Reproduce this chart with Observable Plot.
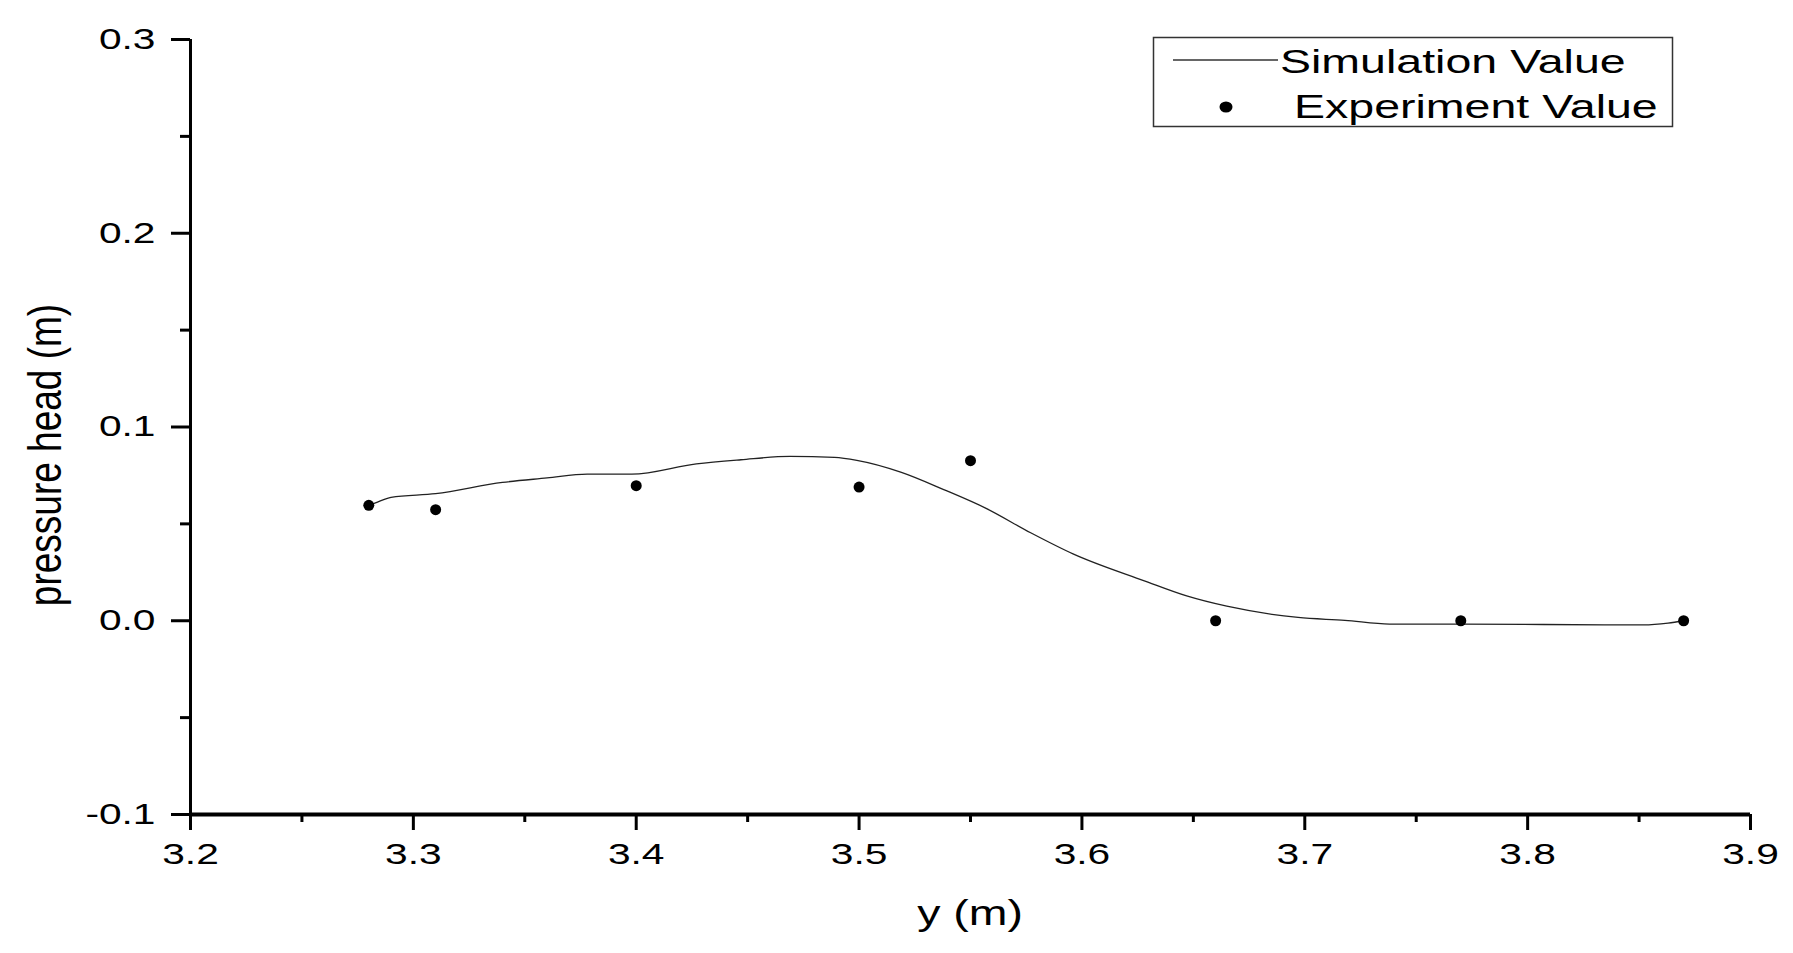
<!DOCTYPE html>
<html><head><meta charset="utf-8">
<script src="https://cdn.jsdelivr.net/npm/d3@7"></script>
<script src="https://cdn.jsdelivr.net/npm/@observablehq/plot@0.6"></script>
<style>
html,body{margin:0;padding:0;background:#fff;overflow:hidden}
#wrap{position:relative;width:1793px;height:953px}
</style></head><body><div id="wrap"></div>
<script>
// Simulation curve
const simX = [3.280, 3.283, 3.290, 3.310, 3.340, 3.360, 3.378, 3.398, 3.427, 3.447, 3.469, 3.489, 3.499, 3.519, 3.538, 3.557, 3.577, 3.596, 3.628, 3.647, 3.665, 3.697, 3.718, 3.738, 3.770, 3.838, 3.852, 3.863, 3.870];
const simY = [0.0595, 0.0608, 0.0637, 0.0656, 0.0714, 0.0737, 0.0757, 0.0757, 0.0810, 0.0831, 0.0848, 0.0843, 0.0828, 0.0766, 0.0677, 0.0580, 0.0454, 0.0345, 0.0206, 0.0128, 0.0075, 0.0017, 0.0002, -0.0017, -0.0017, -0.0021, -0.0021, -0.0012, 0.0];
// Experiment points
const expX = [3.28, 3.31, 3.40, 3.50, 3.55, 3.66, 3.77, 3.87];
const expY = [0.0596, 0.0573, 0.0697, 0.0690, 0.0826, 0, 0, 0];
// Ticks
const xMajor = [3.2, 3.3, 3.4, 3.5, 3.6, 3.7, 3.8, 3.9];
const xMinor = [3.25, 3.35, 3.45, 3.55, 3.65, 3.75, 3.85];
const yMajor = [-0.1, 0.0, 0.1, 0.2, 0.3];
const yMinor = [-0.05, 0.05, 0.15, 0.25];
const xLabel = "y (m)";
const yLabel = "pressure head (m)";
const legendLabels = ["Simulation Value", "Experiment Value"];

const sim = simX.map((x, i) => ({x, y: simY[i]}));
const exp = expX.map((x, i) => ({x, y: expY[i]}));
const font = '"Liberation Sans", Arial, sans-serif';

const chart = Plot.plot({
  width: 1793, height: 953,
  marginLeft: 190, marginRight: 43, marginTop: 39, marginBottom: 139,
  style: {fontFamily: font, color: "#000", background: "#fff", overflow: "visible"},
  x: {domain: [3.2, 3.9]},
  y: {domain: [-0.1, 0.3]},
  marks: [
    Plot.axisX(xMajor, {tickSize: 16, tickPadding: 13, strokeWidth: 3, fontSize: 29.5, tickFormat: d => d.toFixed(1), label: null}),
    Plot.axisX(xMinor, {tickSize: 8, strokeWidth: 3, tickFormat: () => "", label: null}),
    Plot.axisY(yMajor, {tickSize: 19, tickPadding: 16, strokeWidth: 3, fontSize: 29.5, tickFormat: d => d.toFixed(1), label: null}),
    Plot.axisY(yMinor, {tickSize: 10, strokeWidth: 3, tickFormat: () => "", label: null}),
    Plot.ruleX([3.2], {strokeWidth: 3}),
    Plot.ruleY([-0.1], {strokeWidth: 4}),
    Plot.line(sim, {x: "x", y: "y", stroke: "#222", strokeWidth: 1.3, curve: "monotone-x"}),
    Plot.dot(exp, {x: "x", y: "y", r: 5.5, fill: "#000", stroke: "none"})
  ]
});

// The reference text is horizontally stretched; mimic by scaling each tick label about its anchor.
chart.querySelectorAll("text").forEach(t => {
  const s = " scale(1.38,1)";
  const tr = t.getAttribute("transform");
  if (tr) t.setAttribute("transform", tr + s);
  else {
    const x = t.getAttribute("x") || 0, y = t.getAttribute("y") || 0;
    t.removeAttribute("x"); t.removeAttribute("y");
    t.setAttribute("transform", `translate(${x},${y})${s}`);
  }
});

// Axis titles and legend
const G = d3.select(chart).append("g").attr("font-family", font).attr("fill", "#000").attr("text-anchor", "start");
G.append("text").attr("text-anchor", "middle").attr("font-size", 36)
  .attr("transform", "translate(970,925) scale(1.29,1)").text(xLabel);
G.append("text").attr("text-anchor", "middle").attr("font-size", 37)
  .attr("transform", "translate(61,455) rotate(-90) scale(1,1.25)").text(yLabel);

const L = G.append("g").attr("font-size", 33);
L.append("rect").attr("x", 1153.5).attr("y", 37.5).attr("width", 519).attr("height", 89)
  .attr("fill", "#fff").attr("stroke", "#333").attr("stroke-width", 1.5);
L.append("line").attr("x1", 1173).attr("x2", 1278).attr("y1", 60).attr("y2", 60)
  .attr("stroke", "#333").attr("stroke-width", 1.3);
L.append("text").attr("transform", "translate(1280,73) scale(1.41,1)").text(legendLabels[0]);
L.append("ellipse").attr("cx", 1226).attr("cy", 107).attr("rx", 6.5).attr("ry", 5.5).attr("fill", "#000");
L.append("text").attr("transform", "translate(1294,118) scale(1.41,1)").text(legendLabels[1]);

document.getElementById("wrap").appendChild(chart);
</script></body></html>
